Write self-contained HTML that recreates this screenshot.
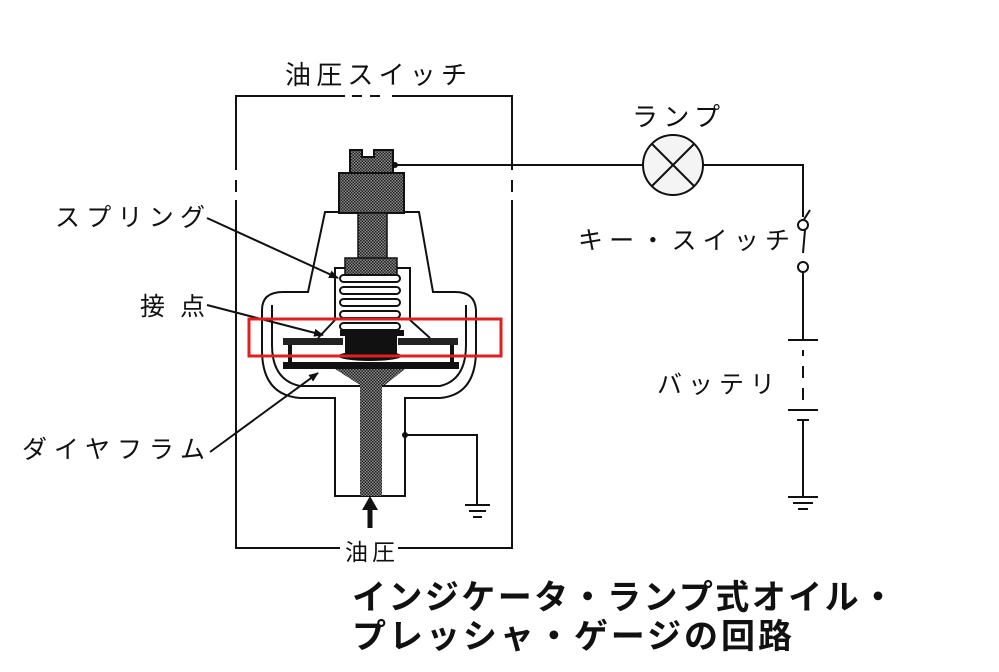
<!DOCTYPE html>
<html><head><meta charset="utf-8"><style>
html,body{margin:0;padding:0;background:#fff;}
svg{display:block;}
text{font-family:"Liberation Sans","Noto Sans CJK JP",sans-serif;fill:#111;}
</style></head><body>
<svg width="999" height="672" viewBox="0 0 999 672" xmlns="http://www.w3.org/2000/svg">
<defs>
<pattern id="h" width="3" height="3" patternUnits="userSpaceOnUse">
<rect width="3" height="3" fill="#888"/><rect width="1.5" height="1.5" fill="#222"/><rect x="1.5" y="1.5" width="1.5" height="1.5" fill="#222"/>
</pattern>
<marker id="a" markerWidth="10" markerHeight="8" refX="9" refY="4" orient="auto" markerUnits="userSpaceOnUse"><path d="M0,0 L10,4 L0,8 Z" fill="#111"/></marker>
</defs>
<g stroke="#111" stroke-width="2" fill="none">
<!-- switch box -->
<path d="M345,96 H236 V548 H340 M398,548 H512 V96 H392"/>
<path d="M352,96 H362 M370,96 H380" />
<path d="M236,170 V200 M512,170 V200" stroke="#fff" stroke-width="4"/>
<path d="M236,180 V192 M512,180 V192"/>
<!-- body outline -->
<path d="M335,496 V398 H300 Q262,395 262,350 V310 Q262,292 283,292 H308 L325,212 H419 L433,292 H455 Q475,292 476,310 V350 Q476,395 440,398 H405 V496 Z" fill="#fff"/>
<path d="M272,305 V345 Q272,380 300,386 H440 Q466,380 466,345 V305"/>
<!-- spring chamber -->
<path d="M335,320 V268 H410 V320"/>
<!-- cone inside -->
<path d="M318,338 L335,320 M410,320 L430,338"/>
</g>
<!-- cap and hex -->
<path d="M350,150 H362 V157 H374 V150 H393 V173 H350 Z" fill="url(#h)" stroke="#111" stroke-width="2"/>
<rect x="339" y="173" width="65" height="40" fill="url(#h)" stroke="#111" stroke-width="2"/>
<rect x="358" y="213" width="29" height="47" fill="url(#h)" stroke="#111" stroke-width="1.5"/>
<rect x="345" y="258" width="52" height="17" fill="url(#h)" stroke="#111" stroke-width="1.5"/>
<!-- spring -->
<g stroke="#111" stroke-width="2" fill="#fff">
<rect x="340" y="275" width="60" height="7" rx="3.5"/>
<rect x="340" y="287" width="60" height="7" rx="3.5"/>
<rect x="340" y="299" width="60" height="7" rx="3.5"/>
<rect x="340" y="311" width="60" height="7" rx="3.5"/>
<rect x="340" y="323" width="60" height="7" rx="3.5"/>
</g>
<!-- contact plates -->
<rect x="283" y="338" width="60" height="7" fill="#222"/>
<rect x="398" y="338" width="60" height="7" fill="#222"/>
<rect x="288" y="345" width="4" height="18" fill="#111"/>
<rect x="450" y="345" width="4" height="18" fill="#111"/>
<rect x="340" y="330" width="64" height="6" fill="#111"/>
<rect x="345" y="333" width="52" height="22" fill="#111"/>
<ellipse cx="370" cy="356" rx="32" ry="5" fill="#111"/>
<!-- diaphragm -->
<rect x="283" y="362" width="176" height="7" fill="#111"/>
<path d="M335,369 H405 L385,385 H360 Z" fill="url(#h)"/>
<rect x="360" y="375" width="22" height="121" fill="url(#h)"/>
<!-- ground wire from body -->
<g stroke="#111" stroke-width="2" fill="none">
<path d="M405,435 H477 V505"/>
<path d="M465,505 H490 M469,511 H486 M473,517 H482"/>
<!-- external circuit -->
<path d="M393,165 H643 M703,165 H803 V217"/>
<circle cx="673" cy="165" r="30" fill="#f4f4f4"/>
<path d="M652,144 L694,186 M694,144 L652,186"/>
<path d="M803,221 L810,210"/>
<path d="M803,253 L805,230"/>
<path d="M803,271 V340"/>
<path d="M788,340 H818 M803,350 V356 M803,366 V378 M803,388 V400 M788,410 H818 M797,420 H809 M803,420 V497"/>
<path d="M788,497 H818 M793,503 H813 M798,509 H808"/>
<!-- leaders -->
<path d="M207,218 L338,278" marker-end="url(#a)"/>
<path d="M207,305 L323,335" marker-end="url(#a)"/>
<path d="M210,452 L318,373" marker-end="url(#a)"/>
</g>
<circle cx="395" cy="165" r="3" fill="#111"/>
<circle cx="405" cy="435" r="3" fill="#111"/>
<circle cx="803" cy="225" r="5" fill="#fff" stroke="#111" stroke-width="2"/>
<circle cx="803" cy="267" r="5" fill="#fff" stroke="#111" stroke-width="2"/>
<!-- oil arrow -->
<path d="M370,528 V508" stroke="#111" stroke-width="5"/>
<path d="M362,510 L370,496 L378,510 Z" fill="#111"/>
<!-- labels -->
<text x="285" y="84" font-size="26" textLength="182">油圧スイッチ</text>
<text x="632" y="126" font-size="26" textLength="88">ランプ</text>
<text x="578" y="249" font-size="25" textLength="212">キー・スイッチ</text>
<text x="657" y="393" font-size="25" textLength="118">バッテリ</text>
<text x="55" y="226" font-size="25" textLength="150">スプリング</text>
<text x="140" y="315" font-size="25" textLength="65">接点</text>
<text x="22" y="458" font-size="25" textLength="183">ダイヤフラム</text>
<text x="345" y="560" font-size="23" textLength="50">油圧</text>
<text x="352" y="609" font-size="34" font-weight="bold" textLength="543">インジケータ・ランプ式オイル・</text>
<text x="352" y="648" font-size="34" font-weight="bold" textLength="440">プレッシャ・ゲージの回路</text>
<!-- red highlight -->
<rect x="249" y="319" width="252" height="37" fill="none" stroke="#e02020" stroke-width="3"/>
</svg>
</body></html>
